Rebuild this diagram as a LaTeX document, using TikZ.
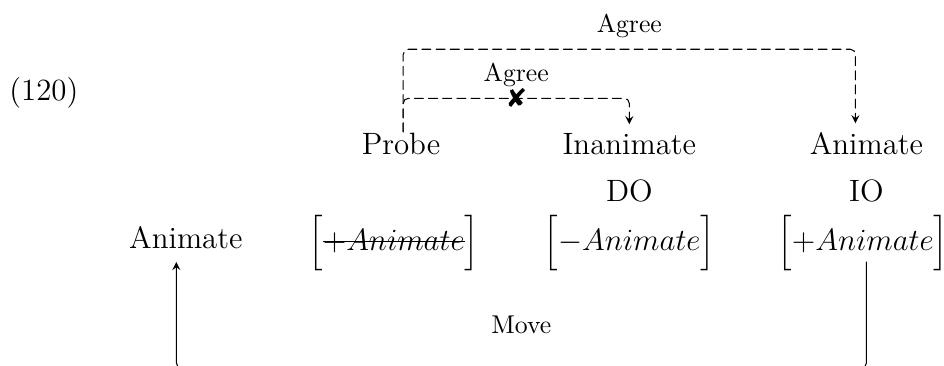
\documentclass[tikz,border=0pt]{standalone}
\usepackage{amsmath}
\usepackage{fontspec}
\newfontfamily\dejavu{DejaVu Sans}
\usetikzlibrary{arrows.meta, positioning, calc}

\newsavebox{\strkbox}
\newcommand{\strk}[1]{\sbox{\strkbox}{#1}\rlap{\usebox{\strkbox}}\rule[0.6ex]{\wd\strkbox}{0.4pt}}

\begin{document}
\begin{tikzpicture}[>=stealth, line join=round, line cap=round,
    word/.style={font=\large, anchor=base},
    lbl/.style={font=\normalsize},
    agree/.style={->, dash pattern=on 3.5pt off 2pt, rounded corners=2pt},
    move/.style={->, rounded corners=2pt}]
    \useasboundingbox (0,0) rectangle (12.90,4.99);
    \node[word] (ex) at (0.60,3.62) {(120)};

    % 第一行
    \node[word] (probe) at (5.48,2.88) {Probe};
    \node[word] (inan) at (8.60,2.88) {Inanimate};
    \node[word] (anim) at (11.84,2.88) {Animate};
    % 第二行
    \node[word] (do) at (8.60,2.23) {DO};
    \node[word] (io) at (11.84,2.23) {IO};
    % 特征
    \node[word] (animL) at (2.54,1.59) {Animate};
    \node[word] (fProbe) at (5.38,1.57) {$\Bigl[\strk{$+Animate$}\Bigr]$};
    \node[word] (fDO) at (8.60,1.57) {$\Bigl[-Animate\Bigr]$};
    \node[word] (fIO) at (11.79,1.57) {$\Bigl[+Animate\Bigr]$};

    % Agree
    \coordinate (pTop) at ($(probe.north)+(0.03,-0.11)$);
    \draw[agree] (pTop) -- ++(0,1.13) -- node[above=1pt, lbl] {Agree} ++(6.18,0) -- ([xshift=-0.15cm]anim.north);
    \coordinate (c1) at ($(pTop)+(0,0.46)$);
    \draw[agree] (pTop) -- (c1) -- node[above=1pt, lbl] {Agree} node[lbl, font=\dejavu] {✘} (c1 -| inan.north) -- (inan.north);

    % Move
    \coordinate (mvR) at (11.84,1.41);
    \coordinate (mvL) at (2.41,1.41);
    \draw[move] (mvR) -- (mvR |- 0,-0.04) -- node[above=10pt, lbl] {Move} (mvL |- 0,-0.04) -- (mvL);
\end{tikzpicture}
\end{document}
